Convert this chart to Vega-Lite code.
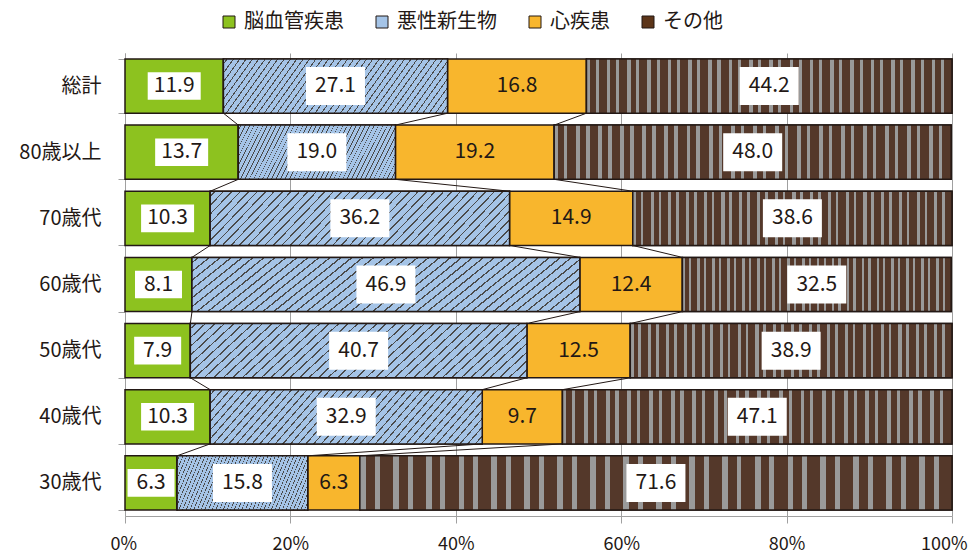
{
  "$schema": "https://vega.github.io/schema/vega-lite/v6.json",
  "width": 827,
  "height": 463,
  "autosize": "none",
  "padding": {"left": 125, "top": 53, "right": 21, "bottom": 40},
  "background": "white",
  "config": {
    "font": "Noto Sans CJK JP",
    "view": {"stroke": null},
    "axisX": {"grid": true, "gridColor": "#a0a0a0", "gridWidth": 1, "domainColor": "#a0a0a0", "tickColor": "#a0a0a0", "tickSize": 7, "labelFontSize": 18, "labelPadding": 12, "labelColor": "#231815", "labelFlush": true, "labelFlushOffset": 15, "title": null, "labelExpr": "datum.value + '%'"},
    "axisY": {"grid": false, "domainColor": "#a0a0a0", "tickColor": "#a0a0a0", "tickSize": 7, "tickBand": "extent", "labelFontSize": 20, "labelPadding": 17, "labelColor": "#231815", "title": null}
  },
  "datasets": {
    "main": [
      {"cat": "総計", "s": "脳血管疾患", "v": 11.9},
      {"cat": "総計", "s": "悪性新生物", "v": 27.1},
      {"cat": "総計", "s": "心疾患", "v": 16.8},
      {"cat": "総計", "s": "その他", "v": 44.2},
      {"cat": "80歳以上", "s": "脳血管疾患", "v": 13.7},
      {"cat": "80歳以上", "s": "悪性新生物", "v": 19.0},
      {"cat": "80歳以上", "s": "心疾患", "v": 19.2},
      {"cat": "80歳以上", "s": "その他", "v": 48.0},
      {"cat": "70歳代", "s": "脳血管疾患", "v": 10.3},
      {"cat": "70歳代", "s": "悪性新生物", "v": 36.2},
      {"cat": "70歳代", "s": "心疾患", "v": 14.9},
      {"cat": "70歳代", "s": "その他", "v": 38.6},
      {"cat": "60歳代", "s": "脳血管疾患", "v": 8.1},
      {"cat": "60歳代", "s": "悪性新生物", "v": 46.9},
      {"cat": "60歳代", "s": "心疾患", "v": 12.4},
      {"cat": "60歳代", "s": "その他", "v": 32.5},
      {"cat": "50歳代", "s": "脳血管疾患", "v": 7.9},
      {"cat": "50歳代", "s": "悪性新生物", "v": 40.7},
      {"cat": "50歳代", "s": "心疾患", "v": 12.5},
      {"cat": "50歳代", "s": "その他", "v": 38.9},
      {"cat": "40歳代", "s": "脳血管疾患", "v": 10.3},
      {"cat": "40歳代", "s": "悪性新生物", "v": 32.9},
      {"cat": "40歳代", "s": "心疾患", "v": 9.7},
      {"cat": "40歳代", "s": "その他", "v": 47.1},
      {"cat": "30歳代", "s": "脳血管疾患", "v": 6.3},
      {"cat": "30歳代", "s": "悪性新生物", "v": 15.8},
      {"cat": "30歳代", "s": "心疾患", "v": 6.3},
      {"cat": "30歳代", "s": "その他", "v": 71.6}
    ],
    "conn": [
      {"a": "総計", "b": "80歳以上", "x": 11.9, "x2": 13.7},
      {"a": "総計", "b": "80歳以上", "x": 39.0, "x2": 32.7},
      {"a": "総計", "b": "80歳以上", "x": 55.8, "x2": 51.9},
      {"a": "80歳以上", "b": "70歳代", "x": 13.7, "x2": 10.3},
      {"a": "80歳以上", "b": "70歳代", "x": 32.7, "x2": 46.5},
      {"a": "80歳以上", "b": "70歳代", "x": 51.9, "x2": 61.4},
      {"a": "70歳代", "b": "60歳代", "x": 10.3, "x2": 8.1},
      {"a": "70歳代", "b": "60歳代", "x": 46.5, "x2": 55.0},
      {"a": "70歳代", "b": "60歳代", "x": 61.4, "x2": 67.4},
      {"a": "60歳代", "b": "50歳代", "x": 8.1, "x2": 7.9},
      {"a": "60歳代", "b": "50歳代", "x": 55.0, "x2": 48.6},
      {"a": "60歳代", "b": "50歳代", "x": 67.4, "x2": 61.1},
      {"a": "50歳代", "b": "40歳代", "x": 7.9, "x2": 10.3},
      {"a": "50歳代", "b": "40歳代", "x": 48.6, "x2": 43.2},
      {"a": "50歳代", "b": "40歳代", "x": 61.1, "x2": 52.9},
      {"a": "40歳代", "b": "30歳代", "x": 10.3, "x2": 6.3},
      {"a": "40歳代", "b": "30歳代", "x": 43.2, "x2": 22.1},
      {"a": "40歳代", "b": "30歳代", "x": 52.9, "x2": 28.4}
    ]
  },
  "layer": [
    {
      "data": {"name": "main"},
      "transform": [
        {"calculate": "indexof(['脳血管疾患','悪性新生物','心疾患','その他'], datum.s)", "as": "k"},
        {"stack": "v", "groupby": ["cat"], "sort": [{"field": "k", "order": "ascending"}], "as": ["x0", "x1"]},
        {"calculate": "(datum.x0 + datum.x1) / 2", "as": "mid"}
      ],
      "layer": [
        {
          "mark": {"type": "bar", "stroke": "#231815", "strokeWidth": 1.5},
          "encoding": {
            "y": {"field": "cat", "type": "nominal", "sort": ["総計", "80歳以上", "70歳代", "60歳代", "50歳代", "40歳代", "30歳代"], "scale": {"domain": ["総計", "80歳以上", "70歳代", "60歳代", "50歳代", "40歳代", "30歳代"], "paddingInner": 0.18, "paddingOuter": 0.09}},
            "x": {"field": "x0", "type": "quantitative", "scale": {"domain": [0, 100], "nice": false}, "axis": {"values": [0, 20, 40, 60, 80, 100]}},
            "x2": {"field": "x1"},
            "color": {
              "field": "s", "type": "nominal",
              "scale": {"domain": ["脳血管疾患", "悪性新生物", "心疾患", "その他"], "range": ["#8dc21f", "#a5c4e7", "#f8b62d", "#5c3519"]},
              "legend": {"orient": "none", "legendX": 94, "legendY": -41, "direction": "horizontal", "title": null, "symbolType": "square", "symbolSize": 144, "symbolStrokeColor": "#231815", "symbolStrokeWidth": 1, "symbolOpacity": 1, "labelFontSize": 20, "labelOffset": 5, "columnPadding": 28, "labelColor": "#231815", "padding": 0}
            }
          }
        },
        {
          "transform": [{"filter": "datum.s === '悪性新生物'"}],
          "mark": {
            "type": "bar", "stroke": "#231815", "strokeWidth": 1.5,
            "fill": {"gradient": "linear", "x1": 0, "y1": 0, "x2": 1.1395, "y2": 0.1983, "stops": [
              {"offset": 0, "color": "#a5c4e7"},
              {"offset": 0.012, "color": "#a5c4e7"}, {"offset": 0.012, "color": "#4a4a4a"}, {"offset": 0.0165, "color": "#4a4a4a"}, {"offset": 0.0165, "color": "#a5c4e7"},
              {"offset": 0.0361, "color": "#a5c4e7"}, {"offset": 0.0361, "color": "#4a4a4a"}, {"offset": 0.0406, "color": "#4a4a4a"}, {"offset": 0.0406, "color": "#a5c4e7"},
              {"offset": 0.0602, "color": "#a5c4e7"}, {"offset": 0.0602, "color": "#4a4a4a"}, {"offset": 0.0647, "color": "#4a4a4a"}, {"offset": 0.0647, "color": "#a5c4e7"},
              {"offset": 0.0843, "color": "#a5c4e7"}, {"offset": 0.0843, "color": "#4a4a4a"}, {"offset": 0.0888, "color": "#4a4a4a"}, {"offset": 0.0888, "color": "#a5c4e7"},
              {"offset": 0.1084, "color": "#a5c4e7"}, {"offset": 0.1084, "color": "#4a4a4a"}, {"offset": 0.1129, "color": "#4a4a4a"}, {"offset": 0.1129, "color": "#a5c4e7"},
              {"offset": 0.1325, "color": "#a5c4e7"}, {"offset": 0.1325, "color": "#4a4a4a"}, {"offset": 0.137, "color": "#4a4a4a"}, {"offset": 0.137, "color": "#a5c4e7"},
              {"offset": 0.1566, "color": "#a5c4e7"}, {"offset": 0.1566, "color": "#4a4a4a"}, {"offset": 0.1611, "color": "#4a4a4a"}, {"offset": 0.1611, "color": "#a5c4e7"},
              {"offset": 0.1807, "color": "#a5c4e7"}, {"offset": 0.1807, "color": "#4a4a4a"}, {"offset": 0.1852, "color": "#4a4a4a"}, {"offset": 0.1852, "color": "#a5c4e7"},
              {"offset": 0.2048, "color": "#a5c4e7"}, {"offset": 0.2048, "color": "#4a4a4a"}, {"offset": 0.2093, "color": "#4a4a4a"}, {"offset": 0.2093, "color": "#a5c4e7"},
              {"offset": 0.2289, "color": "#a5c4e7"}, {"offset": 0.2289, "color": "#4a4a4a"}, {"offset": 0.2334, "color": "#4a4a4a"}, {"offset": 0.2334, "color": "#a5c4e7"},
              {"offset": 0.253, "color": "#a5c4e7"}, {"offset": 0.253, "color": "#4a4a4a"}, {"offset": 0.2575, "color": "#4a4a4a"}, {"offset": 0.2575, "color": "#a5c4e7"},
              {"offset": 0.2771, "color": "#a5c4e7"}, {"offset": 0.2771, "color": "#4a4a4a"}, {"offset": 0.2816, "color": "#4a4a4a"}, {"offset": 0.2816, "color": "#a5c4e7"},
              {"offset": 0.3012, "color": "#a5c4e7"}, {"offset": 0.3012, "color": "#4a4a4a"}, {"offset": 0.3057, "color": "#4a4a4a"}, {"offset": 0.3057, "color": "#a5c4e7"},
              {"offset": 0.3253, "color": "#a5c4e7"}, {"offset": 0.3253, "color": "#4a4a4a"}, {"offset": 0.3298, "color": "#4a4a4a"}, {"offset": 0.3298, "color": "#a5c4e7"},
              {"offset": 0.3494, "color": "#a5c4e7"}, {"offset": 0.3494, "color": "#4a4a4a"}, {"offset": 0.3539, "color": "#4a4a4a"}, {"offset": 0.3539, "color": "#a5c4e7"},
              {"offset": 0.3735, "color": "#a5c4e7"}, {"offset": 0.3735, "color": "#4a4a4a"}, {"offset": 0.378, "color": "#4a4a4a"}, {"offset": 0.378, "color": "#a5c4e7"},
              {"offset": 0.3976, "color": "#a5c4e7"}, {"offset": 0.3976, "color": "#4a4a4a"}, {"offset": 0.4021, "color": "#4a4a4a"}, {"offset": 0.4021, "color": "#a5c4e7"},
              {"offset": 0.4217, "color": "#a5c4e7"}, {"offset": 0.4217, "color": "#4a4a4a"}, {"offset": 0.4262, "color": "#4a4a4a"}, {"offset": 0.4262, "color": "#a5c4e7"},
              {"offset": 0.4458, "color": "#a5c4e7"}, {"offset": 0.4458, "color": "#4a4a4a"}, {"offset": 0.4503, "color": "#4a4a4a"}, {"offset": 0.4503, "color": "#a5c4e7"},
              {"offset": 0.4699, "color": "#a5c4e7"}, {"offset": 0.4699, "color": "#4a4a4a"}, {"offset": 0.4744, "color": "#4a4a4a"}, {"offset": 0.4744, "color": "#a5c4e7"},
              {"offset": 0.494, "color": "#a5c4e7"}, {"offset": 0.494, "color": "#4a4a4a"}, {"offset": 0.4985, "color": "#4a4a4a"}, {"offset": 0.4985, "color": "#a5c4e7"},
              {"offset": 0.5181, "color": "#a5c4e7"}, {"offset": 0.5181, "color": "#4a4a4a"}, {"offset": 0.5226, "color": "#4a4a4a"}, {"offset": 0.5226, "color": "#a5c4e7"},
              {"offset": 0.5422, "color": "#a5c4e7"}, {"offset": 0.5422, "color": "#4a4a4a"}, {"offset": 0.5467, "color": "#4a4a4a"}, {"offset": 0.5467, "color": "#a5c4e7"},
              {"offset": 0.5663, "color": "#a5c4e7"}, {"offset": 0.5663, "color": "#4a4a4a"}, {"offset": 0.5708, "color": "#4a4a4a"}, {"offset": 0.5708, "color": "#a5c4e7"},
              {"offset": 0.5904, "color": "#a5c4e7"}, {"offset": 0.5904, "color": "#4a4a4a"}, {"offset": 0.5949, "color": "#4a4a4a"}, {"offset": 0.5949, "color": "#a5c4e7"},
              {"offset": 0.6145, "color": "#a5c4e7"}, {"offset": 0.6145, "color": "#4a4a4a"}, {"offset": 0.619, "color": "#4a4a4a"}, {"offset": 0.619, "color": "#a5c4e7"},
              {"offset": 0.6386, "color": "#a5c4e7"}, {"offset": 0.6386, "color": "#4a4a4a"}, {"offset": 0.6431, "color": "#4a4a4a"}, {"offset": 0.6431, "color": "#a5c4e7"},
              {"offset": 0.6627, "color": "#a5c4e7"}, {"offset": 0.6627, "color": "#4a4a4a"}, {"offset": 0.6672, "color": "#4a4a4a"}, {"offset": 0.6672, "color": "#a5c4e7"},
              {"offset": 0.6868, "color": "#a5c4e7"}, {"offset": 0.6868, "color": "#4a4a4a"}, {"offset": 0.6913, "color": "#4a4a4a"}, {"offset": 0.6913, "color": "#a5c4e7"},
              {"offset": 0.7109, "color": "#a5c4e7"}, {"offset": 0.7109, "color": "#4a4a4a"}, {"offset": 0.7154, "color": "#4a4a4a"}, {"offset": 0.7154, "color": "#a5c4e7"},
              {"offset": 0.735, "color": "#a5c4e7"}, {"offset": 0.735, "color": "#4a4a4a"}, {"offset": 0.7395, "color": "#4a4a4a"}, {"offset": 0.7395, "color": "#a5c4e7"},
              {"offset": 0.7591, "color": "#a5c4e7"}, {"offset": 0.7591, "color": "#4a4a4a"}, {"offset": 0.7636, "color": "#4a4a4a"}, {"offset": 0.7636, "color": "#a5c4e7"},
              {"offset": 0.7832, "color": "#a5c4e7"}, {"offset": 0.7832, "color": "#4a4a4a"}, {"offset": 0.7877, "color": "#4a4a4a"}, {"offset": 0.7877, "color": "#a5c4e7"},
              {"offset": 0.8073, "color": "#a5c4e7"}, {"offset": 0.8073, "color": "#4a4a4a"}, {"offset": 0.8118, "color": "#4a4a4a"}, {"offset": 0.8118, "color": "#a5c4e7"},
              {"offset": 0.8314, "color": "#a5c4e7"}, {"offset": 0.8314, "color": "#4a4a4a"}, {"offset": 0.8359, "color": "#4a4a4a"}, {"offset": 0.8359, "color": "#a5c4e7"},
              {"offset": 0.8555, "color": "#a5c4e7"}, {"offset": 0.8555, "color": "#4a4a4a"}, {"offset": 0.86, "color": "#4a4a4a"}, {"offset": 0.86, "color": "#a5c4e7"},
              {"offset": 0.8796, "color": "#a5c4e7"}, {"offset": 0.8796, "color": "#4a4a4a"}, {"offset": 0.8841, "color": "#4a4a4a"}, {"offset": 0.8841, "color": "#a5c4e7"},
              {"offset": 0.9037, "color": "#a5c4e7"}, {"offset": 0.9037, "color": "#4a4a4a"}, {"offset": 0.9082, "color": "#4a4a4a"}, {"offset": 0.9082, "color": "#a5c4e7"},
              {"offset": 0.9278, "color": "#a5c4e7"}, {"offset": 0.9278, "color": "#4a4a4a"}, {"offset": 0.9323, "color": "#4a4a4a"}, {"offset": 0.9323, "color": "#a5c4e7"},
              {"offset": 0.9519, "color": "#a5c4e7"}, {"offset": 0.9519, "color": "#4a4a4a"}, {"offset": 0.9564, "color": "#4a4a4a"}, {"offset": 0.9564, "color": "#a5c4e7"},
              {"offset": 0.976, "color": "#a5c4e7"}, {"offset": 0.976, "color": "#4a4a4a"}, {"offset": 0.9805, "color": "#4a4a4a"}, {"offset": 0.9805, "color": "#a5c4e7"},
              {"offset": 1, "color": "#a5c4e7"}
            ]}
          },
          "encoding": {
            "y": {"field": "cat", "type": "nominal"},
            "x": {"field": "x0", "type": "quantitative"},
            "x2": {"field": "x1"}
          }
        },
        {
          "transform": [{"filter": "datum.s === 'その他'"}],
          "mark": {
            "type": "bar", "stroke": "#231815", "strokeWidth": 1.5,
            "fill": {"gradient": "linear", "x1": 0, "y1": 0, "x2": 1, "y2": 0, "stops": [
              {"offset": 0, "color": "#9a9a9a"}, {"offset": 0.01, "color": "#9a9a9a"}, {"offset": 0.01, "color": "#54382a"}, {"offset": 0.025, "color": "#54382a"}, {"offset": 0.025, "color": "#9a9a9a"}, {"offset": 0.0333, "color": "#9a9a9a"}, {"offset": 0.0333, "color": "#54382a"}, {"offset": 0.0556, "color": "#54382a"},
              {"offset": 0.0556, "color": "#9a9a9a"}, {"offset": 0.0656, "color": "#9a9a9a"}, {"offset": 0.0656, "color": "#54382a"}, {"offset": 0.0806, "color": "#54382a"}, {"offset": 0.0806, "color": "#9a9a9a"}, {"offset": 0.0889, "color": "#9a9a9a"}, {"offset": 0.0889, "color": "#54382a"}, {"offset": 0.1111, "color": "#54382a"},
              {"offset": 0.1111, "color": "#9a9a9a"}, {"offset": 0.1211, "color": "#9a9a9a"}, {"offset": 0.1211, "color": "#54382a"}, {"offset": 0.1361, "color": "#54382a"}, {"offset": 0.1361, "color": "#9a9a9a"}, {"offset": 0.1444, "color": "#9a9a9a"}, {"offset": 0.1444, "color": "#54382a"}, {"offset": 0.1667, "color": "#54382a"},
              {"offset": 0.1667, "color": "#9a9a9a"}, {"offset": 0.1767, "color": "#9a9a9a"}, {"offset": 0.1767, "color": "#54382a"}, {"offset": 0.1917, "color": "#54382a"}, {"offset": 0.1917, "color": "#9a9a9a"}, {"offset": 0.2, "color": "#9a9a9a"}, {"offset": 0.2, "color": "#54382a"}, {"offset": 0.2222, "color": "#54382a"},
              {"offset": 0.2222, "color": "#9a9a9a"}, {"offset": 0.2322, "color": "#9a9a9a"}, {"offset": 0.2322, "color": "#54382a"}, {"offset": 0.2472, "color": "#54382a"}, {"offset": 0.2472, "color": "#9a9a9a"}, {"offset": 0.2556, "color": "#9a9a9a"}, {"offset": 0.2556, "color": "#54382a"}, {"offset": 0.2778, "color": "#54382a"},
              {"offset": 0.2778, "color": "#9a9a9a"}, {"offset": 0.2878, "color": "#9a9a9a"}, {"offset": 0.2878, "color": "#54382a"}, {"offset": 0.3028, "color": "#54382a"}, {"offset": 0.3028, "color": "#9a9a9a"}, {"offset": 0.3111, "color": "#9a9a9a"}, {"offset": 0.3111, "color": "#54382a"}, {"offset": 0.3333, "color": "#54382a"},
              {"offset": 0.3333, "color": "#9a9a9a"}, {"offset": 0.3433, "color": "#9a9a9a"}, {"offset": 0.3433, "color": "#54382a"}, {"offset": 0.3583, "color": "#54382a"}, {"offset": 0.3583, "color": "#9a9a9a"}, {"offset": 0.3667, "color": "#9a9a9a"}, {"offset": 0.3667, "color": "#54382a"}, {"offset": 0.3889, "color": "#54382a"},
              {"offset": 0.3889, "color": "#9a9a9a"}, {"offset": 0.3989, "color": "#9a9a9a"}, {"offset": 0.3989, "color": "#54382a"}, {"offset": 0.4139, "color": "#54382a"}, {"offset": 0.4139, "color": "#9a9a9a"}, {"offset": 0.4222, "color": "#9a9a9a"}, {"offset": 0.4222, "color": "#54382a"}, {"offset": 0.4444, "color": "#54382a"},
              {"offset": 0.4444, "color": "#9a9a9a"}, {"offset": 0.4544, "color": "#9a9a9a"}, {"offset": 0.4544, "color": "#54382a"}, {"offset": 0.4694, "color": "#54382a"}, {"offset": 0.4694, "color": "#9a9a9a"}, {"offset": 0.4778, "color": "#9a9a9a"}, {"offset": 0.4778, "color": "#54382a"}, {"offset": 0.5, "color": "#54382a"},
              {"offset": 0.5, "color": "#9a9a9a"}, {"offset": 0.51, "color": "#9a9a9a"}, {"offset": 0.51, "color": "#54382a"}, {"offset": 0.525, "color": "#54382a"}, {"offset": 0.525, "color": "#9a9a9a"}, {"offset": 0.5333, "color": "#9a9a9a"}, {"offset": 0.5333, "color": "#54382a"}, {"offset": 0.5556, "color": "#54382a"},
              {"offset": 0.5556, "color": "#9a9a9a"}, {"offset": 0.5656, "color": "#9a9a9a"}, {"offset": 0.5656, "color": "#54382a"}, {"offset": 0.5806, "color": "#54382a"}, {"offset": 0.5806, "color": "#9a9a9a"}, {"offset": 0.5889, "color": "#9a9a9a"}, {"offset": 0.5889, "color": "#54382a"}, {"offset": 0.6111, "color": "#54382a"},
              {"offset": 0.6111, "color": "#9a9a9a"}, {"offset": 0.6211, "color": "#9a9a9a"}, {"offset": 0.6211, "color": "#54382a"}, {"offset": 0.6361, "color": "#54382a"}, {"offset": 0.6361, "color": "#9a9a9a"}, {"offset": 0.6444, "color": "#9a9a9a"}, {"offset": 0.6444, "color": "#54382a"}, {"offset": 0.6667, "color": "#54382a"},
              {"offset": 0.6667, "color": "#9a9a9a"}, {"offset": 0.6767, "color": "#9a9a9a"}, {"offset": 0.6767, "color": "#54382a"}, {"offset": 0.6917, "color": "#54382a"}, {"offset": 0.6917, "color": "#9a9a9a"}, {"offset": 0.7, "color": "#9a9a9a"}, {"offset": 0.7, "color": "#54382a"}, {"offset": 0.7222, "color": "#54382a"},
              {"offset": 0.7222, "color": "#9a9a9a"}, {"offset": 0.7322, "color": "#9a9a9a"}, {"offset": 0.7322, "color": "#54382a"}, {"offset": 0.7472, "color": "#54382a"}, {"offset": 0.7472, "color": "#9a9a9a"}, {"offset": 0.7556, "color": "#9a9a9a"}, {"offset": 0.7556, "color": "#54382a"}, {"offset": 0.7778, "color": "#54382a"},
              {"offset": 0.7778, "color": "#9a9a9a"}, {"offset": 0.7878, "color": "#9a9a9a"}, {"offset": 0.7878, "color": "#54382a"}, {"offset": 0.8028, "color": "#54382a"}, {"offset": 0.8028, "color": "#9a9a9a"}, {"offset": 0.8111, "color": "#9a9a9a"}, {"offset": 0.8111, "color": "#54382a"}, {"offset": 0.8333, "color": "#54382a"},
              {"offset": 0.8333, "color": "#9a9a9a"}, {"offset": 0.8433, "color": "#9a9a9a"}, {"offset": 0.8433, "color": "#54382a"}, {"offset": 0.8583, "color": "#54382a"}, {"offset": 0.8583, "color": "#9a9a9a"}, {"offset": 0.8667, "color": "#9a9a9a"}, {"offset": 0.8667, "color": "#54382a"}, {"offset": 0.8889, "color": "#54382a"},
              {"offset": 0.8889, "color": "#9a9a9a"}, {"offset": 0.8989, "color": "#9a9a9a"}, {"offset": 0.8989, "color": "#54382a"}, {"offset": 0.9139, "color": "#54382a"}, {"offset": 0.9139, "color": "#9a9a9a"}, {"offset": 0.9222, "color": "#9a9a9a"}, {"offset": 0.9222, "color": "#54382a"}, {"offset": 0.9444, "color": "#54382a"},
              {"offset": 0.9444, "color": "#9a9a9a"}, {"offset": 0.9544, "color": "#9a9a9a"}, {"offset": 0.9544, "color": "#54382a"}, {"offset": 0.9694, "color": "#54382a"}, {"offset": 0.9694, "color": "#9a9a9a"}, {"offset": 0.9778, "color": "#9a9a9a"}, {"offset": 0.9778, "color": "#54382a"}, {"offset": 1, "color": "#54382a"}
            ]}
          },
          "encoding": {
            "y": {"field": "cat", "type": "nominal"},
            "x": {"field": "x0", "type": "quantitative"},
            "x2": {"field": "x1"}
          }
        },
        {
          "transform": [{"filter": "datum.s !== '心疾患'"}],
          "mark": {"type": "point", "filled": true, "fill": "white", "opacity": 1, "strokeWidth": 0},
          "encoding": {
            "y": {"field": "cat", "type": "nominal"},
            "x": {"field": "mid", "type": "quantitative"},
            "shape": {
              "condition": [
                {"test": "datum.s === '脳血管疾患' && datum.v < 10", "value": "M-1,-0.59L1,-0.59L1,0.59L-1,0.59Z"},
                {"test": "datum.s === '脳血管疾患'", "value": "M-1,-0.52L1,-0.52L1,0.52L-1,0.52Z"}
              ],
              "value": "M-1,-0.644L1,-0.644L1,0.644L-1,0.644Z"
            },
            "size": {
              "condition": [
                {"test": "datum.s === '脳血管疾患' && datum.v < 10", "value": 2209},
                {"test": "datum.s === '脳血管疾患'", "value": 2809}
              ],
              "value": 3481
            }
          }
        },
        {
          "mark": {"type": "text", "fontSize": 21, "color": "#231815", "align": "center", "baseline": "middle"},
          "encoding": {
            "y": {"field": "cat", "type": "nominal"},
            "x": {"field": "mid", "type": "quantitative"},
            "text": {"field": "v", "type": "quantitative", "format": ".1f"}
          }
        }
      ]
    },
    {
      "data": {"name": "conn"},
      "mark": {"type": "rule", "color": "#231815", "strokeWidth": 1},
      "encoding": {
        "y": {"field": "a", "type": "nominal", "bandPosition": 1},
        "y2": {"field": "b", "bandPosition": 0},
        "x": {"field": "x", "type": "quantitative"},
        "x2": {"field": "x2"}
      }
    }
  ]
}
